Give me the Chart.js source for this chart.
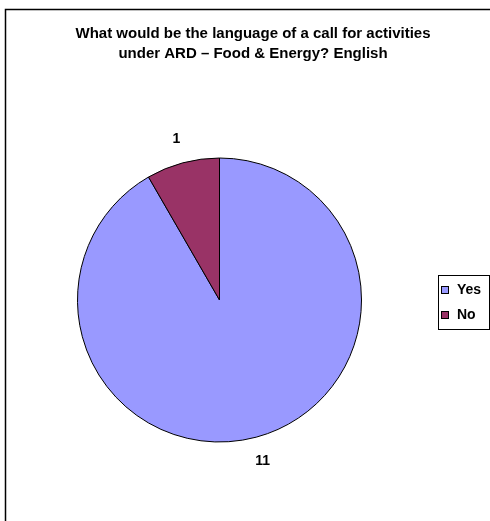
<!DOCTYPE html>
<html>
<head>
<meta charset="utf-8">
<script src="https://cdn.jsdelivr.net/npm/chart.js@4"></script>
<style>
  html, body { margin: 0; padding: 0; background: #fff; }
  #wrap { position: relative; width: 490px; height: 521px; }
</style>
</head>
<body>
<div id="wrap"><canvas id="pie" width="490" height="521"></canvas></div>
<script>
{
  // Answers and how many said each
  const answers = ['Yes', 'No'];
  const counts = [11, 1];
  const sliceColors = ['#9999FF', '#993366'];
  const titleLines = [
    'What would be the language of a call for activities',
    'under ARD \u2013 Food & Energy? English'
  ];

  const FONT = '"Liberation Sans", Arial, sans-serif';

  // Outer frame (left and top edges only are visible) and the title
  const framePlugin = {
    id: 'frame',
    beforeDraw(chart, args, opts) {
      const ctx = chart.ctx;
      ctx.save();
      ctx.strokeStyle = '#000';
      ctx.lineWidth = 1.5;
      ctx.beginPath();
      ctx.moveTo(5.5, chart.height + 2);
      ctx.lineTo(5.5, 9.5);
      ctx.lineTo(chart.width + 2, 9.5);
      ctx.stroke();

      ctx.fillStyle = '#000';
      ctx.font = 'bold 15px ' + FONT;
      ctx.textAlign = 'center';
      ctx.textBaseline = 'middle';
      opts.lines.forEach((line, i) => {
        ctx.fillText(line, opts.centerX, opts.firstY + i * opts.lineGap);
      });
      ctx.restore();
    }
  };

  // Value labels outside each slice
  const valueLabels = {
    id: 'valueLabels',
    afterDatasetsDraw(chart) {
      const ctx = chart.ctx;
      const meta = chart.getDatasetMeta(0);
      ctx.save();
      ctx.font = 'bold 14px ' + FONT;
      ctx.fillStyle = '#000';
      ctx.textAlign = 'center';
      ctx.textBaseline = 'middle';
      meta.data.forEach((arc, i) => {
        const p = arc.getProps(['x', 'y', 'startAngle', 'endAngle', 'outerRadius']);
        const mid = (p.startAngle + p.endAngle) / 2;
        const r = p.outerRadius + 25;
        ctx.fillText(String(chart.data.datasets[0].data[i]), p.x + Math.cos(mid) * r, p.y + Math.sin(mid) * r);
      });
      ctx.restore();
    }
  };

  // Boxed legend at the right
  const boxLegend = {
    id: 'boxLegend',
    afterDraw(chart, args, opts) {
      const ctx = chart.ctx;
      const ds = chart.data.datasets[0];
      const x = opts.left, y = opts.top, w = opts.width, rowH = opts.rowHeight;
      const h = rowH * chart.data.labels.length + 4;
      ctx.save();
      ctx.fillStyle = '#fff';
      ctx.fillRect(x, y, w, h);
      ctx.strokeStyle = '#000';
      ctx.lineWidth = 1;
      ctx.strokeRect(x + 0.5, y + 0.5, w, h);
      ctx.font = 'bold 14px ' + FONT;
      ctx.textBaseline = 'middle';
      chart.data.labels.forEach((lab, i) => {
        const cy = y + 15 + i * rowH;
        ctx.fillStyle = ds.backgroundColor[i];
        ctx.fillRect(x + 3, cy - 4, 8, 8);
        ctx.strokeRect(x + 3.5, cy - 3.5, 7, 7);
        ctx.fillStyle = '#000';
        ctx.fillText(lab, x + 19, cy + 0.5);
      });
      ctx.restore();
    }
  };

  new Chart(document.getElementById('pie'), {
    type: 'pie',
    data: {
      labels: answers,
      datasets: [{
        data: counts,
        backgroundColor: sliceColors,
        borderColor: '#000',
        borderWidth: 1
      }]
    },
    options: {
      responsive: false,
      animation: false,
      layout: { padding: { left: 77, right: 128, top: 157, bottom: 78 } },
      plugins: {
        legend: { display: false },
        tooltip: { enabled: false },
        title: { display: false },
        frame: { lines: titleLines, centerX: 253, firstY: 33.5, lineGap: 20 },
        boxLegend: { left: 438, top: 275, width: 51, rowHeight: 25 }
      }
    },
    plugins: [framePlugin, valueLabels, boxLegend]
  });
}
</script>
</body>
</html>
